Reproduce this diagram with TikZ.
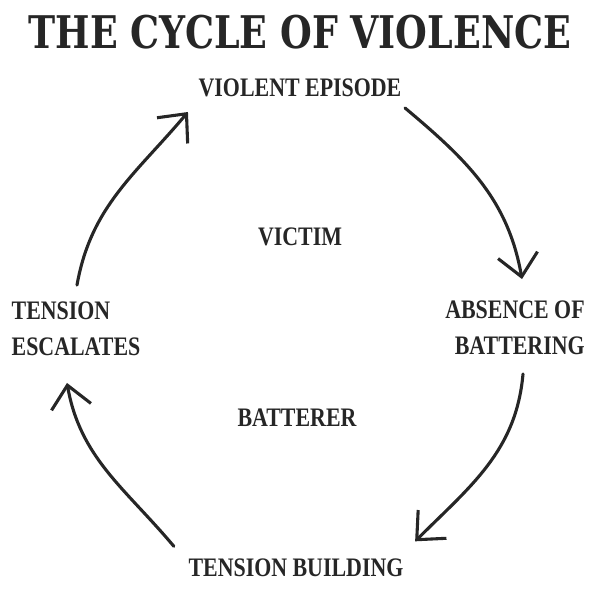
\documentclass[tikz,border=0pt]{standalone}
\usepackage{fontspec}
\setmainfont{Liberation Serif}
\newfontfamily\titlefont[FakeStretch=0.81]{DejaVu Serif}
\newfontfamily\stagefont[FakeStretch=0.82]{Liberation Serif}
\usetikzlibrary{arrows.meta,positioning}
\tikzset{
  stage/.style={font=\stagefont\bfseries\fontsize{19}{26}\selectfont, align=center, inner sep=1pt, text=black!85},
  cycle arrow/.style={line width=2.2pt, draw=black!85, line cap=round,
    -{Straight Barb[length=5.5mm,width=10mm,line width=2.2pt]}},
}

\begin{document}
\begin{tikzpicture}[x=0.025cm,y=0.025cm]
\useasboundingbox (0,0) rectangle (600,600);

% Title.
\node[font=\titlefont\bfseries\fontsize{32}{38}\selectfont, text=black!85] (title) at (300,568) {THE CYCLE OF VIOLENCE};

% Stages of the cycle.
\node[stage] (ve) at (300,512) {VIOLENT EPISODE};
\node[stage, align=right] (ab) at (515,272) {ABSENCE OF\\BATTERING};
\node[stage] (tb) at (296,32) {TENSION BUILDING};
\node[stage, align=left] (te) at (76,271) {TENSION\\ESCALATES};

% Roles.
\node[stage] (victim) at (300,363) {VICTIM};
\node[stage] (batterer) at (297,182) {BATTERER};

% Arrows round the cycle.
\draw[cycle arrow] ([shift={(2,-20)}]ve.east) to[out=-40,in=100] ([shift={(7,20)}]ab.north);
\draw[cycle arrow] ([shift={(8,-17)}]ab.south) to[out=-95,in=45] ([shift={(10,16)}]tb.north east);
\draw[cycle arrow] ([shift={(-13,11)}]tb.north west) to[out=130,in=-80] ([shift={(-9,-25)}]te.south);
\draw[cycle arrow] ([shift={(1,15)}]te.north) to[out=80,in=-130] ([shift={(-9,-24)}]ve.west);
\end{tikzpicture}
\end{document}
